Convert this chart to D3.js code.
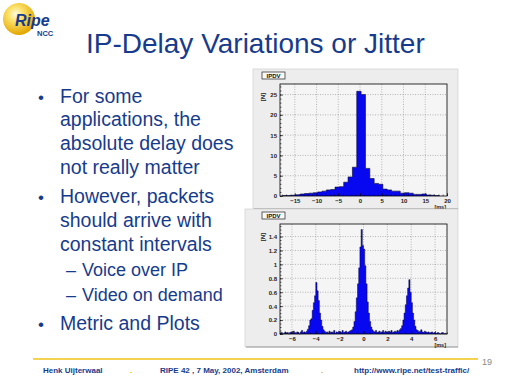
<!DOCTYPE html>
<html>
<head>
<meta charset="utf-8">
<script src="https://cdn.jsdelivr.net/npm/d3@7"></script>
<style>
  body { margin: 0; background: #fff; }
  svg { display: block; font-family: "Liberation Sans", Arial, sans-serif; }
</style>
</head>
<body>
<div id="slide"></div>
<script>
// slide text
var titleText = "IP-Delay Variations or Jitter";
var bulletLines = [
  { level: 1, lines: ["For some", "applications, the", "absolute delay does", "not really matter"] },
  { level: 1, lines: ["However, packets", "should arrive with", "constant intervals"] },
  { level: 2, lines: ["Voice over IP"] },
  { level: 2, lines: ["Video on demand"] },
  { level: 1, lines: ["Metric and Plots"] }
];
var footerTexts = ["Henk Uijterwaal", "RIPE 42 , 7 May, 2002, Amsterdam", "http://www.ripe.net/test-traffic/"];
var pageNumber = "19";

// top histogram: IPDV, 1 ms bins starting at -17.75 ms
var wideStart = -17.75;
var wideWidth = 1;
var wideCounts = [0.1, 0.1, 0.2, 0.3, 0.5, 0.6, 0.7, 0.8, 1.0, 1.2, 1.5, 1.6, 2.2, 2.3, 3.4, 4.7, 7.1,
  25.8, 25.0, 6.8, 4.3, 3.1, 2.9, 1.7, 1.5, 1.2, 1.2, 0.7, 0.8, 0.7, 0.4, 0.4, 0.5, 0.25, 0.2, 0.1];
var wideXTicks = [-15, -10, -5, 0, 5, 10, 15, 20];
var wideYTicks = [0, 5, 10, 15, 20, 25];

// bottom histogram: IPDV, 0.1 ms bins starting at -7 ms
var fineStart = -7;
var fineWidth = 0.1;
var fineCounts = [
  0.01, 0.02, 0.0, 0.01, 0.03, 0.01, 0.02, 0.0, 0.02, 0.03, 0.01, 0.04, 0.02, 0.01, 0.03, 0.02, 0.0, 0.03, 0.05, 0.02,
  0.03, 0.02, 0.04,
  0.07, 0.12, 0.2, 0.22, 0.34, 0.45, 0.55, 0.74, 0.62, 0.48, 0.3, 0.2, 0.11, 0.06, 0.04,
  0.02, 0.03, 0.01, 0.04, 0.02, 0.03, 0.02, 0.05, 0.01, 0.03, 0.02, 0.04, 0.03, 0.02, 0.05, 0.02, 0.03, 0.04, 0.02, 0.03, 0.04, 0.05,
  0.06, 0.1, 0.18, 0.32, 0.52, 0.72, 0.95, 1.25, 1.5, 1.27, 1.22, 0.98, 0.72, 0.46, 0.3, 0.18, 0.1, 0.06,
  0.04, 0.03, 0.05, 0.02, 0.03, 0.04, 0.02, 0.03, 0.05, 0.02, 0.04, 0.03, 0.02, 0.04, 0.03, 0.05, 0.02, 0.03, 0.04, 0.03, 0.05, 0.04, 0.06,
  0.08, 0.12, 0.2, 0.3, 0.42, 0.55, 0.66, 0.78, 0.6, 0.45, 0.3, 0.2, 0.11, 0.06, 0.05,
  0.03, 0.04, 0.06, 0.03, 0.02, 0.04, 0.03, 0.02, 0.03, 0.01, 0.02, 0.03, 0.01, 0.02, 0.0, 0.01, 0.02, 0.01, 0.0, 0.01, 0.02, 0.0, 0.01, 0.0
];
var fineXTicks = [-6, -4, -2, 0, 2, 4, 6];
var fineYTicks = [0, 0.2, 0.4, 0.6, 0.8, 1, 1.2, 1.4];

var navy = "#173b8c";
var gold = "#f0c419";

var svg = d3.select("#slide").append("svg")
  .attr("width", 512)
  .attr("height", 384);

// --- logo
var defs = svg.append("defs");
var grad = defs.append("radialGradient").attr("id", "ball")
  .attr("cx", "40%").attr("cy", "35%").attr("r", "65%");
grad.append("stop").attr("offset", "0%").attr("stop-color", "#fffbe6");
grad.append("stop").attr("offset", "35%").attr("stop-color", "#fbe26a");
grad.append("stop").attr("offset", "100%").attr("stop-color", "#e2a600");

svg.append("circle").attr("cx", 19).attr("cy", 19).attr("r", 16).attr("fill", "url(#ball)");
svg.append("text").attr("x", 15).attr("y", 26)
  .attr("font-size", 16).attr("font-weight", "bold").attr("font-style", "italic")
  .attr("fill", navy).text("Ripe");
svg.append("text").attr("x", 37).attr("y", 36)
  .attr("font-size", 7.5).attr("font-weight", "bold")
  .attr("fill", navy).text("NCC");

// --- title
svg.append("text").attr("x", 86).attr("y", 53)
  .attr("font-size", 28).attr("fill", navy).text(titleText);

// --- bullets
var by = 102.5;
bulletLines.forEach(function(item, i) {
  if (i > 0) by += item.level === 1 ? 29 : 25;
  var size = item.level === 1 ? 19.5 : 18;
  var tx = item.level === 1 ? 60 : 82;
  if (item.level === 1) {
    svg.append("text").attr("x", 38).attr("y", by)
      .attr("font-size", 17).attr("fill", navy).text("\u2022");
  } else {
    svg.append("text").attr("x", 66).attr("y", by)
      .attr("font-size", size).attr("fill", navy).text("\u2013");
  }
  item.lines.forEach(function(line, j) {
    if (j > 0) by += 23.9;
    svg.append("text").attr("x", tx).attr("y", by)
      .attr("font-size", size).attr("fill", navy).text(line);
  });
});

// --- footer
svg.append("line").attr("x1", 33).attr("x2", 478).attr("y1", 359).attr("y2", 359)
  .attr("stroke", gold).attr("stroke-width", 1.5);
svg.append("text").attr("x", 482).attr("y", 365)
  .attr("font-size", 9).attr("fill", "#8a8a8a").text(pageNumber);
var footX = [43, 160, 354];
footerTexts.forEach(function(t, i) {
  svg.append("text").attr("x", footX[i]).attr("y", 373)
    .attr("font-size", 8).attr("font-weight", "bold").attr("fill", navy).text(t);
});
[130, 321].forEach(function(x) {
  svg.append("text").attr("x", x).attr("y", 373)
    .attr("font-size", 8).attr("font-weight", "bold").attr("fill", "#e0b000").text(".");
});

// --- histogram panels
function drawPanel(cfg) {
  var p = svg.append("g");
  p.append("rect")
    .attr("x", cfg.panel[0]).attr("y", cfg.panel[1])
    .attr("width", cfg.panel[2]).attr("height", cfg.panel[3])
    .attr("fill", "#ededed").attr("stroke", "#c8c8c8").attr("stroke-width", 0.6);
  p.append("line")
    .attr("x1", cfg.panel[0] + 1).attr("x2", cfg.panel[0] + cfg.panel[2])
    .attr("y1", cfg.panel[1] + cfg.panel[3]).attr("y2", cfg.panel[1] + cfg.panel[3])
    .attr("stroke", "#9a9a9a").attr("stroke-width", 1.2);

  var x = d3.scaleLinear().domain(cfg.xDomain).range([280, 447]);
  var y = d3.scaleLinear().domain(cfg.yDomain).range([cfg.bottom, cfg.top]);

  p.append("rect")
    .attr("x", 280).attr("y", cfg.top)
    .attr("width", 167).attr("height", cfg.bottom - cfg.top)
    .attr("fill", "#f5f5f5");

  // dotted grid
  p.selectAll(".gx").data(cfg.xTicks.filter(function(v) { return v > cfg.xDomain[0] && v < cfg.xDomain[1]; }))
    .enter().append("line")
    .attr("x1", d => x(d)).attr("x2", d => x(d))
    .attr("y1", cfg.top).attr("y2", cfg.bottom)
    .attr("stroke", "#777").attr("stroke-width", 0.5).attr("stroke-dasharray", "1,1.5");
  p.selectAll(".gy").data(cfg.yTicks.filter(function(v) { return v > 0; }))
    .enter().append("line")
    .attr("x1", 280).attr("x2", 447)
    .attr("y1", d => y(d)).attr("y2", d => y(d))
    .attr("stroke", "#777").attr("stroke-width", 0.5).attr("stroke-dasharray", "1,1.5");

  // histogram as step outline
  var pts = [];
  cfg.counts.forEach(function(c, i) {
    var x0 = cfg.start + i * cfg.width;
    pts.push([x0, c]);
    pts.push([x0 + cfg.width, c]);
  });
  pts.unshift([cfg.start, 0]);
  pts.push([cfg.start + cfg.counts.length * cfg.width, 0]);

  p.append("path").datum(pts)
    .attr("d", d3.area().x(d => x(d[0])).y0(y(0)).y1(d => y(d[1])))
    .attr("fill", "#0808f0");
  p.append("path").datum(pts)
    .attr("d", d3.line().x(d => x(d[0])).y(d => y(d[1])))
    .attr("fill", "none").attr("stroke", "#050530").attr("stroke-width", cfg.outline);

  // axes
  p.append("g").attr("transform", "translate(0," + cfg.bottom + ")")
    .call(d3.axisBottom(x).tickValues(cfg.xTicks).tickSize(-3).tickPadding(3).tickFormat(d3.format("")));
  p.append("g").attr("transform", "translate(0," + cfg.bottom + ")")
    .call(d3.axisBottom(x).tickValues(cfg.xMinor).tickSize(-1.5).tickFormat(""));
  p.append("g").attr("transform", "translate(280,0)")
    .call(d3.axisLeft(y).tickValues(cfg.yTicks).tickSize(-3).tickPadding(3).tickFormat(d3.format("")));
  p.append("g").attr("transform", "translate(280,0)")
    .call(d3.axisLeft(y).tickValues(cfg.yMinor).tickSize(-1.5).tickFormat(""));
  p.selectAll(".domain").remove();
  p.selectAll(".tick line").attr("stroke", "#000").attr("stroke-width", 0.6);
  p.selectAll(".tick text").attr("font-size", 6).attr("font-weight", "bold")
    .attr("fill", "#222").attr("font-family", "Liberation Sans, Arial, sans-serif");

  // frame
  p.append("rect")
    .attr("x", 280).attr("y", cfg.top)
    .attr("width", 167).attr("height", cfg.bottom - cfg.top)
    .attr("fill", "none").attr("stroke", "#000").attr("stroke-width", 0.8);

  // axis titles
  p.append("text").attr("transform", "translate(265," + (cfg.top + 9) + ") rotate(-90)")
    .attr("text-anchor", "end").attr("font-size", 6).attr("font-weight", "bold")
    .attr("fill", "#222").text("[N]");
  p.append("text").attr("x", 446).attr("y", cfg.bottom + 12.5)
    .attr("text-anchor", "end").attr("font-size", 5.5).attr("font-weight", "bold")
    .attr("fill", "#222").text("[ms]");

  // title box
  p.append("rect").attr("x", 262).attr("y", cfg.panel[1] + 3)
    .attr("width", 23).attr("height", 7)
    .attr("fill", "#f8f8f8").attr("stroke", "#222").attr("stroke-width", 0.7);
  p.append("text").attr("x", 273.5).attr("y", cfg.panel[1] + 8.9)
    .attr("text-anchor", "middle").attr("font-size", 6).attr("font-weight", "bold")
    .attr("fill", "#111").text("IPDV");
}

drawPanel({
  panel: [253, 69, 205, 140],
  top: 84, bottom: 196,
  xDomain: [-18.4, 20], yDomain: [0, 27.6],
  xTicks: wideXTicks, yTicks: wideYTicks,
  xMinor: d3.range(-18, 21, 1), yMinor: d3.range(0, 27.6, 1),
  start: wideStart, width: wideWidth, counts: wideCounts,
  outline: 0.6
});

drawPanel({
  panel: [245, 209, 213, 138],
  top: 224, bottom: 334,
  xDomain: [-7, 7], yDomain: [0, 1.58],
  xTicks: fineXTicks, yTicks: fineYTicks,
  xMinor: d3.range(-7, 7.01, 0.5), yMinor: d3.range(0, 1.58, 0.05),
  start: fineStart, width: fineWidth, counts: fineCounts,
  outline: 0.5
});
</script>
</body>
</html>
